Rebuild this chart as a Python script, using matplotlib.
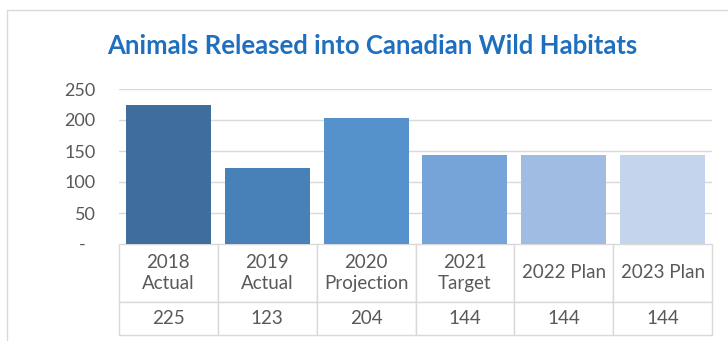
import matplotlib.pyplot as plt
from matplotlib.patches import Rectangle
import numpy as np

categories = ["2018\nActual", "2019\nActual", "2020\nProjection", "2021\nTarget", "2022 Plan", "2023 Plan"]
values = [225, 123, 204, 144, 144, 144]
yticks = [0, 50, 100, 150, 200, 250]
ytick_labels = ["-  ", "50", "100", "150", "200", "250"]
bar_colors = ["#3f6e9c", "#4880b8", "#5591cb", "#77a4d8", "#a0bce2", "#c3d4ec"]

W, H = 728, 341
plt.rcParams['font.family'] = ['Lato', 'DejaVu Sans']
grey_text = "#595959"
line_grey = "#d9d9d9"

fig = plt.figure(figsize=(W / 100, H / 100), dpi=100)

# outer chart frame
fig.add_artist(Rectangle((7 / W, -0.05), 1.05, 1 - 10 / H + 0.05, transform=fig.transFigure,
                         fill=False, edgecolor="#d9d9d9", linewidth=1.0, clip_on=False))

left, right, top, bottom = 119, 712, 89, 244
ax = fig.add_axes([left / W, 1 - bottom / H, (right - left) / W, (bottom - top) / H])

x = np.arange(len(values))
ax.bar(x, values, width=0.86, color=bar_colors, zorder=3)
ax.set_xlim(-0.5, len(values) - 0.5)
ax.set_ylim(0, 250)
ax.set_yticks(yticks)
ax.set_yticklabels(ytick_labels, fontsize=13, color=grey_text)
ax.set_xticks([])
ax.tick_params(axis='y', length=0, pad=17)
for t in yticks[1:]:
    ax.axhline(t, color=line_grey, linewidth=1.0, zorder=1)
for s in ax.spines.values():
    s.set_visible(False)

# data table under the bars
cell_text = [categories, [str(v) for v in values]]
tab = ax.table(cellText=cell_text, cellLoc='center',
               bbox=[0, -(335 - bottom) / (bottom - top), 1, (335 - bottom) / (bottom - top)])
tab.auto_set_font_size(False)
for (r, c), cell in tab.get_celld().items():
    cell.set_edgecolor(line_grey)
    cell.set_linewidth(1.0)
    cell.get_text().set_color(grey_text)
    cell.get_text().set_fontsize(13.5)
    cell.get_text().set_linespacing(1.25)
    cell.set_height(58 if r == 0 else 33)

fig.text(372 / W, 1 - 46 / H, "Animals Released into Canadian Wild Habitats",
         ha='center', va='center', fontsize=18.5, fontweight='bold', color="#1f6fbf")

fig.savefig("out.png", dpi=100)
